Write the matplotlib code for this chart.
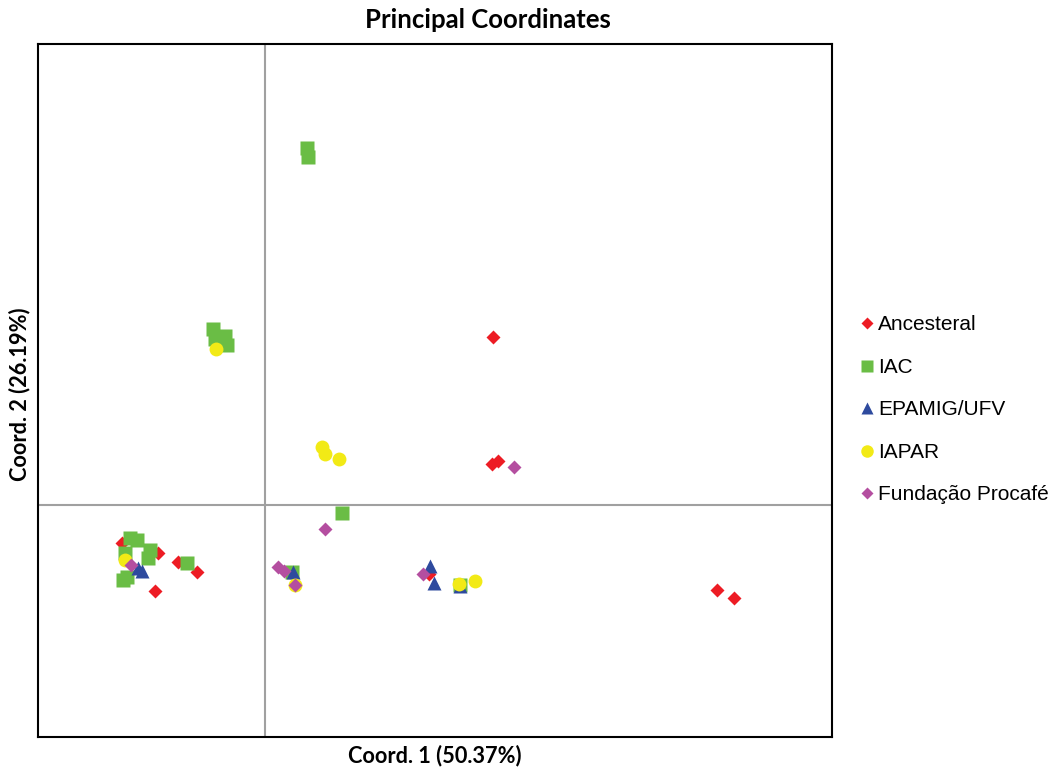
import matplotlib.pyplot as plt
from matplotlib.lines import Line2D

# principal coordinate scores (arbitrary units, axis origin at 0,0)
anc_x = [2.28, 2.27, 2.33, 4.52, 4.69, -1.10, -0.68, -0.87, -1.07, -1.43, 1.64]
anc_y = [1.68, 0.41, 0.44, -0.85, -0.93, -0.86, -0.67, -0.57, -0.48, -0.38, -0.69]

iac_x = [0.42, 0.43, -0.52, -0.40, -0.50, -0.38, 0.77, 0.27, 1.95, -1.35, -1.28, -1.15, -1.17, -1.40, -1.38, -1.42, -0.78]
iac_y = [3.57, 3.48, 1.76, 1.69, 1.66, 1.60, -0.08, -0.67, -0.80, -0.33, -0.35, -0.45, -0.53, -0.48, -0.72, -0.75, -0.58]

epa_x = [1.65, 1.69, 0.28, -1.27, -1.23, 1.95]
epa_y = [-0.61, -0.78, -0.67, -0.63, -0.66, -0.81]

iap_x = [-0.49, 0.57, 0.60, 0.74, 1.94, 2.10, -1.40, 0.30]
iap_y = [1.56, 0.58, 0.51, 0.46, -0.79, -0.76, -0.55, -0.80]

pro_x = [2.49, 0.60, 0.13, 0.19, 0.30, 1.58, -1.34]
pro_y = [0.38, -0.24, -0.62, -0.66, -0.80, -0.69, -0.60]

groups = ['Ancesteral', 'IAC', 'EPAMIG/UFV', 'IAPAR', 'Fundação Procafé']

plt.rcParams['font.family'] = ['Lato', 'DejaVu Sans']

fig = plt.figure(figsize=(10.56, 7.67), dpi=100)
ax = fig.add_axes([38/1056, 30/767, 794/1056, 693/767])

ax.axvline(0, color='#a0a0a0', lw=1.5, zorder=0)
ax.axhline(0, color='#a0a0a0', lw=1.5, zorder=0)

ax.plot(anc_x, anc_y, 'D', ms=7, color='#ed1c24', mec='none', ls='none')
ax.plot(iac_x, iac_y, 's', ms=9.5, color='#6abd45', mec='none', ls='none')
ax.plot(epa_x, epa_y, '^', ms=10, color='#2e4a9e', mec='none', ls='none')
ax.plot(iap_x, iap_y, 'o', ms=10, color='#f2ea16', mec='none', ls='none')
ax.plot(pro_x, pro_y, 'D', ms=7, color='#b44ea0', mec='none', ls='none')

ax.set_xlim(-2.27, 5.67)
ax.set_ylim(-2.32, 4.61)
ax.set_xticks([])
ax.set_yticks([])
for s in ax.spines.values():
    s.set_linewidth(1.5)

fig.text(488/1056, 1 - 28/767, 'Principal Coordinates', fontsize=18.5, fontweight='bold',
         ha='center', va='baseline')
fig.text(435/1056, 1 - 762/767, 'Coord. 1 (50.37%)', fontsize=15.7, fontweight='bold',
         ha='center', va='baseline')
fig.text(20/1056, 1 - 394/767, 'Coord. 2 (26.19%)', fontsize=15.7, fontweight='bold',
         ha='center', va='center', rotation=90)

handles = [
    Line2D([], [], marker='D', ls='none', color='#ed1c24', ms=6, mec='none'),
    Line2D([], [], marker='s', ls='none', color='#6abd45', ms=8, mec='none'),
    Line2D([], [], marker='^', ls='none', color='#2e4a9e', ms=9, mec='none'),
    Line2D([], [], marker='o', ls='none', color='#f2ea16', ms=9, mec='none'),
    Line2D([], [], marker='D', ls='none', color='#b44ea0', ms=6, mec='none'),
]
fig.legend(handles, groups, loc='upper left', bbox_to_anchor=(850/1056, 1 - 307/767),
           frameon=False, prop={'family': 'Liberation Sans', 'size': 15},
           handlelength=0.8, handletextpad=0.15, labelspacing=1.13, borderaxespad=0)

fig.savefig('out.png', dpi=100)
